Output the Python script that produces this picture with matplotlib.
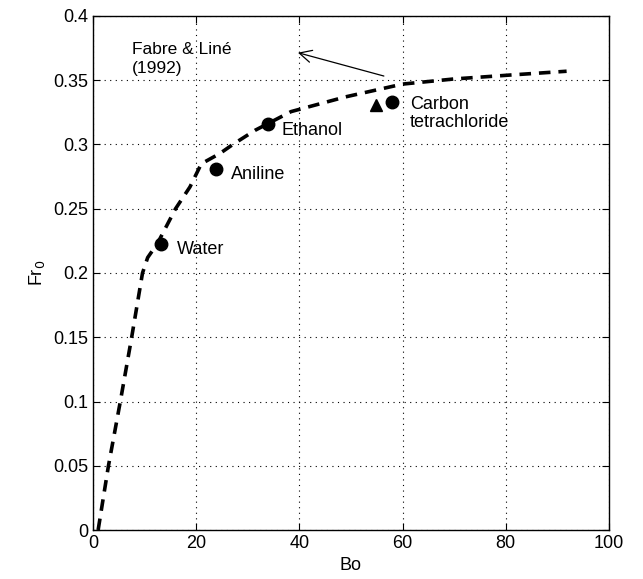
import matplotlib
matplotlib.use("Agg")
import matplotlib.pyplot as plt

plt.rcParams['font.family'] = ['Liberation Sans', 'DejaVu Sans']

# Fabre & Line (1992) correlation, Fr0 vs Bo
curve_bo = [1.0, 3.0, 5.3, 7.5, 9.6, 10.6, 12.5, 16.0, 18.8, 21.0, 24.6, 27.1, 31.4,
            38.4, 48.9, 60.0, 70.0, 80.7, 91.8]
curve_fr = [0.0, 0.05, 0.10, 0.15, 0.20, 0.212, 0.223, 0.25, 0.267, 0.285, 0.293,
            0.300, 0.311, 0.3256, 0.337, 0.347, 0.351, 0.354, 0.357]

# measured liquids
liquids = ['Water', 'Aniline', 'Ethanol', 'Carbon\ntetrachloride']
liquid_bo = [13.2, 23.8, 33.9, 57.9]
liquid_fr = [0.2225, 0.281, 0.316, 0.333]
label_bo = [16.2, 26.8, 36.6, 61.4]
label_fr = [0.218, 0.277, 0.311, 0.324]

tri_bo = [54.8]
tri_fr = [0.331]

fig = plt.figure(figsize=(6.43, 5.79), dpi=100)
ax = fig.add_axes([0.1446, 0.0846, 0.8024, 0.8878])

ax.plot(curve_bo, curve_fr, color='black', lw=2.6, linestyle=(0, (3.2, 2.2)))
ax.plot(liquid_bo, liquid_fr, 'o', color='black', ms=9)
ax.plot(tri_bo, tri_fr, '^', color='black', ms=9)

for name, x, y in zip(liquids, label_bo, label_fr):
    ax.text(x, y, name, fontsize=13, va='center', ha='left', linespacing=1.1)

ax.annotate('', xy=(39.2, 0.372), xytext=(56.9, 0.3527),
            arrowprops=dict(arrowstyle='->', color='black', lw=0.9,
                            mutation_scale=22))
ax.text(7.5, 0.3555, 'Fabre & Liné\n(1992)', fontsize=12.5, va='baseline',
        ha='left', linespacing=1.35)

ax.set_xlim(0, 100)
ax.set_ylim(0, 0.4)
ax.set_xticks([0, 20, 40, 60, 80, 100])
ax.set_yticks([0, 0.05, 0.1, 0.15, 0.2, 0.25, 0.3, 0.35, 0.4])
ax.set_yticklabels(['0', '0.05', '0.1', '0.15', '0.2', '0.25', '0.3', '0.35', '0.4'])
ax.tick_params(direction='in', top=True, right=True, labelsize=13, length=5)
ax.grid(True, linestyle=(0, (1, 4)), color='black', lw=0.8)
for s in ax.spines.values():
    s.set_linewidth(1.0)

ax.set_xlabel('Bo', fontsize=13)
ax.set_ylabel('Fr$_0$', fontsize=13)

fig.savefig('out.png', dpi=100)
